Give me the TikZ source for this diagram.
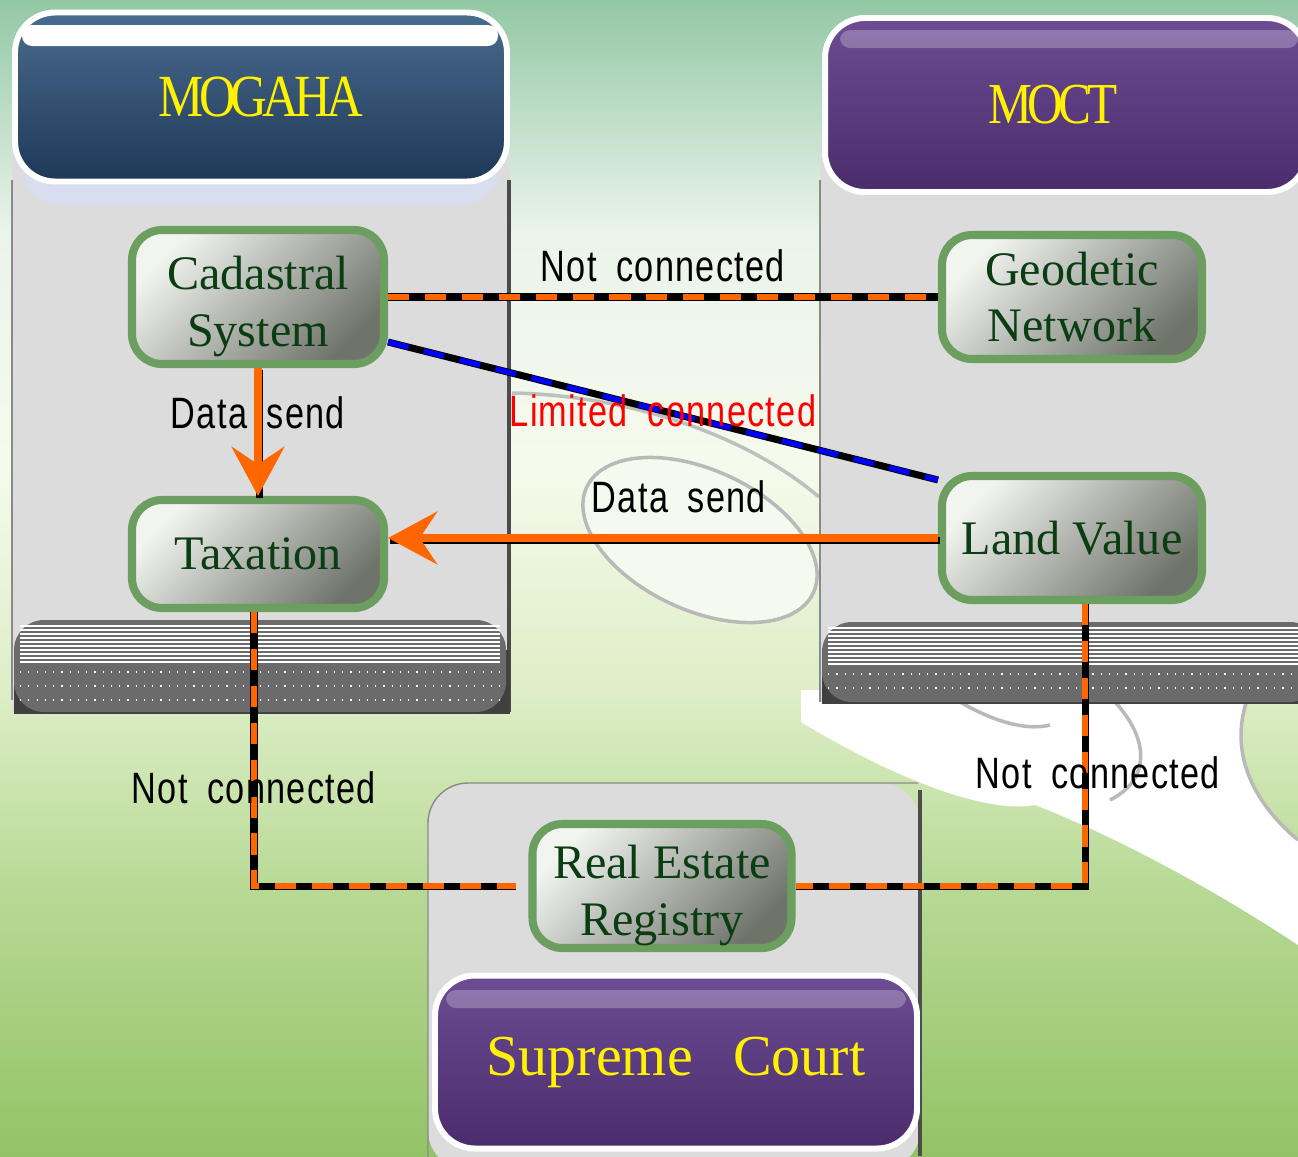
\documentclass[tikz,border=0pt]{standalone}
\usepackage{fontspec}
\setmainfont{Liberation Serif}
\newfontfamily\labelfont[FakeStretch=0.78,LetterSpace=3,WordSpace=1.8]{Liberation Sans}
\newfontfamily\headfont[FakeStretch=0.85,LetterSpace=-8]{Liberation Serif}
\usetikzlibrary{arrows.meta,positioning}

\definecolor{bgtop}{HTML}{93C8A5}
\definecolor{bgwhitetwo}{HTML}{EAF4EA}
\definecolor{bgwhite}{HTML}{F6FAEC}
\definecolor{bgpale}{HTML}{DDEEC6}
\definecolor{bggreen}{HTML}{B5D892}
\definecolor{bgbottom}{HTML}{93C366}
\definecolor{panelgray}{HTML}{DCDCDC}
\definecolor{panelline}{HTML}{8A8A8A}
\definecolor{lavender}{HTML}{D8DDEF}
\definecolor{bandgray}{HTML}{6B6B6B}
\definecolor{boxgreen}{HTML}{6B9E5F}
\definecolor{boxlight}{HTML}{F2F4F0}
\definecolor{boxdark}{HTML}{6F746B}
\definecolor{boxtext}{HTML}{0B3D13}
\definecolor{mogtop}{HTML}{4A6C8E}
\definecolor{mogbot}{HTML}{1F3858}
\definecolor{purpletop}{HTML}{6D4C93}
\definecolor{purplebot}{HTML}{4A2C6C}
\definecolor{linkorange}{HTML}{FF6600}
\definecolor{linkblue}{HTML}{0000FF}

\pgfdeclareverticalshading{bgshade}{100bp}{color(0bp)=(bgbottom); color(25bp)=(bgbottom);
  color(36bp)=(bggreen); color(45bp)=(bgpale); color(55bp)=(bgwhite); color(65bp)=(bgwhitetwo);
  color(75bp)=(bgtop); color(100bp)=(bgtop)}

\begin{document}
\begin{tikzpicture}[
  x=0.1mm, y=-0.1mm,
  unit/.style={draw=boxgreen, line width=2.3pt, rounded corners=3mm, inner sep=0pt,
    top color=boxlight, bottom color=boxdark, shading angle=45,
    minimum width=25.2mm, minimum height=12.4mm, align=center, text=boxtext,
    font=\fontsize{13.7}{16.2}\selectfont},
  ministry/.style={draw=white, line width=1.7pt, rounded corners=4mm, inner sep=0pt,
    text=yellow, align=center},
  labeltext/.style={inner sep=0pt, font=\labelfont\fontsize{12.5}{14}\selectfont},
  nolink/.style={draw=black, line width=2pt,
    postaction={draw=linkorange, line width=1.5pt, dash pattern=on 6pt off 4.5pt}},
  limlink/.style={draw=black, line width=2pt,
    postaction={draw=linkblue, line width=1.5pt, dash pattern=on 6pt off 4.5pt}},
  sendlink/.style={draw=linkorange, line width=2pt, -{Stealth[length=14pt, width=15pt, inset=5pt]},
    preaction={draw=black, line width=2pt, -, transform canvas={shift={(0.5pt,-0.6pt)}}}}
]
\useasboundingbox (0,0) rectangle (1298,1156);
\clip (0,0) rectangle (1298,1156);

% Background
\shade[shading=bgshade] (0,0) rectangle (1298,1156);
\fill[white] (801,690) -- (801,722) .. controls (880,770) and (980,815) .. (1035,805)
  .. controls (1100,830) and (1200,880) .. (1298,945) -- (1298,840)
  .. controls (1250,800) and (1230,750) .. (1247,690) -- cycle;
\draw[gray!55, line width=1pt] (1247,700) .. controls (1230,750) and (1250,800) .. (1298,840);
\draw[gray!55, line width=1pt] (1115,702) .. controls (1150,740) and (1150,780) .. (1110,800);
\draw[gray!55, line width=1pt] (960,702) .. controls (1000,725) and (1030,730) .. (1050,725);
\fill[white!70!bgpale] (700,540) ellipse [x radius=125, y radius=70, rotate=-25];
\draw[gray!55, line width=1pt] (700,540) ellipse [x radius=125, y radius=70, rotate=-25];
\draw[gray!50, line width=1pt] (512,393) .. controls (620,395) and (740,430) .. (819,497);

% Panels
\fill[panelgray] (12,150) rectangle (510,712);
\draw[panelline] (12,180) -- (12,700);
\draw[black!70, line width=1.2pt] (509,180) -- (509,712);
\fill[lavender, rounded corners=4mm] (22,150) rectangle (500,205);
\fill[black!75] (14,650) rectangle (510,714);
\fill[bandgray, rounded corners=3mm] (14,620) rectangle (506,712);
\foreach \y in {626,630,...,662} \draw[white, line width=0.35pt] (20,\y) -- (500,\y);
\foreach \y in {672,686,700} \draw[white, line width=0.35pt, dotted] (20,\y) -- (500,\y);

\fill[panelgray] (820,150) rectangle (1298,702);
\draw[panelline] (820,180) -- (820,702);
\fill[black!75] (822,650) rectangle (1298,704);
\fill[bandgray, rounded corners=3mm] (822,622) rectangle (1320,702);
\foreach \y in {628,632,...,664} \draw[white, line width=0.35pt] (828,\y) -- (1298,\y);
\foreach \y in {674,688} \draw[white, line width=0.35pt, dotted] (828,\y) -- (1298,\y);

\fill[panelgray, rounded corners=4mm] (428,1170) -- (428,783) -- (920,783) -- (920,1170) -- cycle;
\draw[panelline, rounded corners=4mm] (428,1170) -- (428,783) -- (918,783);
\draw[black!70, line width=1.2pt] (920,790) -- (920,1156);

% Ministries
\node[ministry, top color=mogtop, bottom color=mogbot, minimum width=49.2mm, minimum height=16.9mm]
  (mogaha) at (261,97) {\headfont\fontsize{17}{17}\selectfont MOGAHA};
\fill[white, rounded corners=1mm] (22,25) rectangle (498,46);
\node[ministry, top color=purpletop, bottom color=purplebot, minimum width=48.2mm, minimum height=17.4mm]
  (moct) at (1066,105) {\headfont\fontsize{16.5}{16.5}\selectfont MOCT\hspace*{2.6mm}};
\fill[white, opacity=0.25, rounded corners=1mm] (840,30) rectangle (1298,48);
\node[ministry, top color=purpletop, bottom color=purplebot, minimum width=48.2mm, minimum height=17.3mm]
  (court) at (676,1062) {\fontsize{16.5}{16.5}\selectfont Supreme\hspace{0.7em}Court};
\fill[white, opacity=0.25, rounded corners=1mm] (446,990) rectangle (906,1008);

% Units
\node[unit, minimum height=13.4mm] (cad) at (258,297) {\rule{0pt}{5.3mm}Cadastral\\System};
\node[unit, minimum height=10.8mm] (tax) at (258,554) {Taxation};
\node[unit, minimum width=26mm] (geo) at (1072,297) {Geodetic\\Network};
\node[unit, minimum width=26mm] (land) at (1072,538) {Land Value};
\node[unit, minimum width=25.9mm] (reg) at (662,886) {\rule{0pt}{5.3mm}Real Estate\\Registry};

% Connections
\draw[nolink] (cad) -- node[above=1.2mm, labeltext] (nc1) {Not connected} (geo);
\draw[limlink] ([yshift=-4.5mm]cad.east) -- node[labeltext, text=red] (lc) {Limited connected}
  ([yshift=-0.8mm]land.north west);
\draw[sendlink] (cad) -- node[pos=0.35, labeltext] (ds1) {Data send} (tax);
\draw[sendlink] (land.west) -- node[above=2.2mm, xshift=1.6mm, labeltext] (ds2) {Data send}
  (land.west -| tax.east);
\draw[nolink] ([xshift=-0.4mm]tax.south) |- node[pos=0.32, labeltext] (nc2) {Not connected}
  ([xshift=-1.2mm]reg.west);
\draw[nolink] ([xshift=1.3mm]land.south) |- node[pos=0.3, xshift=1.3mm, labeltext] (nc3) {Not connected}
  (reg.east);

\end{tikzpicture}
\end{document}
